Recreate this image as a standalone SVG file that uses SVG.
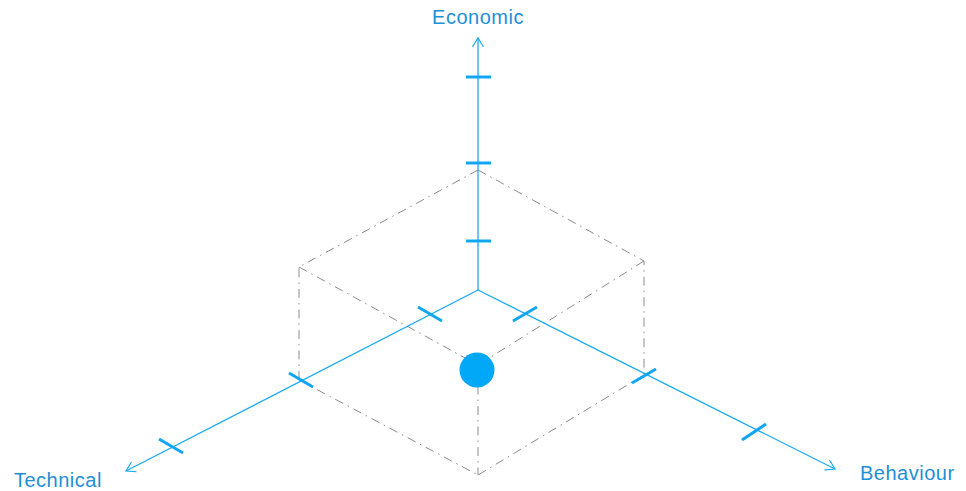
<svg xmlns="http://www.w3.org/2000/svg" width="966" height="491" viewBox="0 0 966 491">
<style>
.axis{stroke:#1aaaf2;stroke-width:1.3;fill:none}
.tick{stroke:#12a6f0;stroke-width:3;fill:none;stroke-linecap:butt}
.box{stroke:#8c8c8c;stroke-width:1;fill:none;stroke-dasharray:9 5 1.5 5}
.lbl{font-family:"Liberation Sans",Arial,sans-serif;font-size:20px;letter-spacing:0.5px;fill:#1e8fd8}
</style>
<defs>
<marker id="arr" markerWidth="14" markerHeight="14" refX="12" refY="7" orient="auto" markerUnits="userSpaceOnUse">
<path d="M3,1.5 L12,7 L3,12.5" fill="none" stroke="#1aaaf2" stroke-width="1.2"/>
</marker>
</defs>
<rect width="966" height="491" fill="#fff"/>
<g id="box">
<path class="box" d="M478,170 L299,267 L299,378"/>
<path class="box" d="M478,170 L644,261 L644,375"/>
<path class="box" d="M299,267 L478,365"/>
<path class="box" d="M644,261 L478,365"/>
<path class="box" d="M478,365 L478,475"/>
<path class="box" d="M299,380 L478,475"/>
<path class="box" d="M644,375 L478,475"/>
</g>
<g id="connectors">
<line class="axis" x1="478" y1="290" x2="478" y2="38" marker-end="url(#arr)"/>
<line class="axis" x1="478" y1="290" x2="126" y2="471" marker-end="url(#arr)"/>
<line class="axis" x1="478" y1="290" x2="835" y2="469" marker-end="url(#arr)"/>
</g>
<g id="ticks-economic">
<line class="tick" x1="466" y1="77" x2="491" y2="77"/>
<line class="tick" x1="466" y1="163" x2="491" y2="163"/>
<line class="tick" x1="466" y1="241" x2="491" y2="241"/>
</g>
<g id="ticks-technical">
<line class="tick" x1="418" y1="307" x2="442" y2="321"/>
<line class="tick" x1="289" y1="373" x2="313" y2="387"/>
<line class="tick" x1="159" y1="439" x2="183" y2="453"/>
</g>
<g id="ticks-behaviour">
<line class="tick" x1="513" y1="321" x2="537" y2="307"/>
<line class="tick" x1="632" y1="383" x2="656" y2="369"/>
<line class="tick" x1="742" y1="440" x2="766" y2="424"/>
</g>
<g id="point">
<circle cx="477" cy="370" r="17.5" fill="#00a8f7"/>
</g>
<g id="label-economic"><text class="lbl" x="478" y="24" text-anchor="middle">Economic</text></g>
<g id="label-technical"><text class="lbl" x="14" y="487">Technical</text></g>
<g id="label-behaviour"><text class="lbl" x="860" y="480">Behaviour</text></g>
</svg>
